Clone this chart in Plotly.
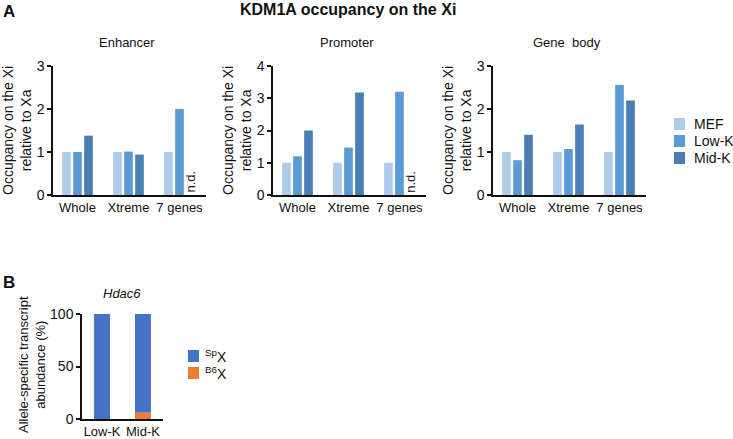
import plotly.graph_objects as go

W, H = 733, 439

groups = ["Whole", "Xtreme", "7 genes"]
series = ["MEF", "Low-K", "Mid-K"]
colors = {"MEF": "#aecbea", "Low-K": "#5b9bd5", "Mid-K": "#4a7eb5"}

enhancer = {"MEF": [1.0, 1.0, 1.0], "Low-K": [1.0, 1.01, 2.0], "Mid-K": [1.38, 0.94, None]}
promoter = {"MEF": [1.0, 1.0, 1.0], "Low-K": [1.2, 1.47, 3.2], "Mid-K": [2.0, 3.18, None]}
genebody = {"MEF": [1.0, 1.0, 1.0], "Low-K": [0.81, 1.07, 2.56], "Mid-K": [1.4, 1.64, 2.2]}

panels = [("Enhancer", enhancer, 3), ("Promoter", promoter, 4), ("Gene  body", genebody, 3)]

b_cats = ["Low-K", "Mid-K"]
b_series = ["<sup>Sp</sup>X", "<sup>B6</sup>X"]
b_colors = ["#4472c4", "#ed7d31"]
b_sp = [100, 94]
b_b6 = [0, 6]

FONT = "Liberation Sans, Arial, sans-serif"
TXT = "#111"
AX = "#111"
LW = 1.5


def xd(a, b):
    return [a / W, b / W]


def yd(top, bottom):
    return [1 - bottom / H, 1 - top / H]


def px_x(v):
    return v / W


def px_y(v):
    return 1 - v / H


panel_x = [(53, 206), (273, 426), (493, 646)]
A_y = (66, 195)

fig = go.Figure()
offsets = {"MEF": -0.301, "Low-K": -0.085, "Mid-K": 0.131}
width = 0.17


def text(t, x, y, size=13, angle=0, xanchor="center", yanchor="middle"):
    fig.add_annotation(text=t, x=px_x(x), y=px_y(y), xref="paper", yref="paper",
                       xanchor=xanchor, yanchor=yanchor, textangle=angle,
                       showarrow=False, font=dict(size=size, color=TXT))


for i, (name, data, ymax) in enumerate(panels):
    xa = "x" if i == 0 else f"x{i+1}"
    ya = "y" if i == 0 else f"y{i+1}"
    for s in series:
        fig.add_trace(go.Bar(
            x=list(range(len(groups))), y=data[s], name=s,
            marker=dict(color=colors[s], line=dict(width=0)),
            offset=offsets[s], width=width,
            xaxis=xa, yaxis=ya, showlegend=False,
        ))
    axk = "xaxis" if i == 0 else f"xaxis{i+1}"
    ayk = "yaxis" if i == 0 else f"yaxis{i+1}"
    fig.update_layout(**{
        axk: dict(domain=xd(*panel_x[i]), range=[-0.48, 2.52], anchor=ya,
                  tickvals=[0, 1, 2], ticktext=groups, ticks="", showline=True,
                  linecolor=AX, linewidth=LW, showgrid=False, zeroline=False,
                  automargin=False, tickfont=dict(size=13, color=TXT)),
        ayk: dict(domain=yd(*A_y), range=[0, ymax], anchor=xa, dtick=1,
                  ticks="outside", ticklen=4, tickcolor=AX, tickwidth=LW, showline=True,
                  linecolor=AX, linewidth=LW, showgrid=False, zeroline=False,
                  automargin=False, tickfont=dict(size=14, color=TXT)),
    })
    cx = (panel_x[i][0] + panel_x[i][1]) / 2 - 3
    text(name, cx, 42)
    text("Occupancy on the Xi<br>relative to Xa", panel_x[i][0] - 36, 131, size=14, angle=-90)
    if data["Mid-K"][2] is None:
        fig.add_annotation(text="n.d.", x=2.215, y=0.02, xref=xa, yref=ya,
                           xanchor="center", yanchor="bottom", textangle=-90,
                           showarrow=False, font=dict(size=13, color=TXT))

# Panel B (stacked: B6X at the bottom, SpX on top)
fig.add_trace(go.Bar(x=[0, 1], y=b_sp, base=b_b6, name=b_series[0],
                     marker=dict(color=b_colors[0], line=dict(width=0)), width=0.39,
                     xaxis="x4", yaxis="y4", showlegend=False))
fig.add_trace(go.Bar(x=[0, 1], y=b_b6, name=b_series[1],
                     marker=dict(color=b_colors[1], line=dict(width=0)), width=0.39,
                     xaxis="x4", yaxis="y4", showlegend=False))

fig.update_layout(
    xaxis4=dict(domain=xd(82, 163), range=[-0.49, 1.49], anchor="y4",
                tickvals=[0, 1], ticktext=b_cats, ticks="", showline=True,
                linecolor=AX, linewidth=LW, showgrid=False, zeroline=False,
                automargin=False, tickfont=dict(size=13, color=TXT)),
    yaxis4=dict(domain=yd(314, 419), range=[0, 100], anchor="x4", tickvals=[0, 50, 100],
                ticks="outside", ticklen=4, tickcolor=AX, tickwidth=LW, showline=True,
                linecolor=AX, linewidth=LW, showgrid=False, zeroline=False,
                automargin=False, tickfont=dict(size=14, color=TXT)),
)
text("<i>Hdac6</i>", 122, 293)
text("Allele-specific transcript<br>abundance (%)", 32, 365, angle=-90)

# Legends (panel A)
for k, s in enumerate(series):
    yc = 124 + 17 * k
    fig.add_shape(type="rect", xref="paper", yref="paper",
                  x0=px_x(674), x1=px_x(685), y0=px_y(yc + 6), y1=px_y(yc - 6),
                  fillcolor=colors[s], line=dict(width=0))
    text(s, 692, yc, size=14, xanchor="left")

# Legend (panel B)
for k, s in enumerate(b_series):
    yc = 356 + 17 * k
    fig.add_shape(type="rect", xref="paper", yref="paper",
                  x0=px_x(188), x1=px_x(199), y0=px_y(yc + 6), y1=px_y(yc - 6),
                  fillcolor=b_colors[k], line=dict(width=0))
    text(s, 203, yc, size=14, xanchor="left")

# Titles and panel letters
text("<b>KDM1A occupancy on the Xi</b>", 348, 10, size=16)
text("<b>A</b>", 9, 12, size=17)
text("<b>B</b>", 9, 282, size=17)

fig.update_layout(
    width=W, height=H, margin=dict(l=0, r=0, t=0, b=0, pad=0), autosize=False,
    paper_bgcolor="white", plot_bgcolor="white", barmode="overlay",
    font=dict(family=FONT, color=TXT), showlegend=False,
)

fig.write_html("out.html", config={"displayModeBar": False},
               post_script="document.body.style.margin='0px';")
